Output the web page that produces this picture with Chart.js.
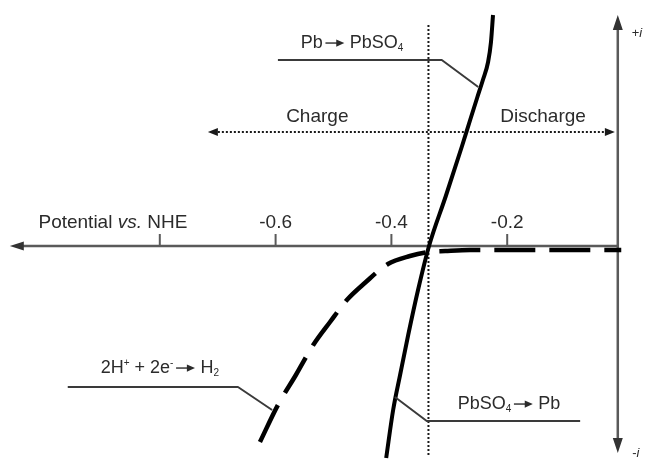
<!DOCTYPE html>
<html>
<head>
<meta charset="utf-8">
<script src="https://cdn.jsdelivr.net/npm/chart.js"></script>
<style>
    html, body { margin: 0; padding: 0; background: #fff; }
    #wrap { width: 645px; height: 462px; position: relative; }
</style>
</head>
<body>
<div id="wrap"><canvas id="myChart"></canvas></div>
<script>
// Potential axis (V vs. NHE), tick labels
const potentialTicks = [-0.8, -0.6, -0.4, -0.2];
const tickLabels = ["", "-0.6", "-0.4", "-0.2"];
const equilibriumPotential = -0.336;

// Pb <-> PbSO4 polarisation curve (solid), current in arbitrary units
const pbPotential = [-0.409, -0.397, -0.385, -0.371, -0.354, -0.335, -0.306, -0.278, -0.264, -0.252, -0.242, -0.233, -0.228, -0.2245];
const pbCurrent = [-2.12, -1.64, -1.29, -0.89, -0.44, 0, 0.50, 1.00, 1.26, 1.48, 1.66, 1.84, 2.04, 2.31];

// hydrogen evolution curve (dashed)
const h2Potential = [-0.627, -0.596, -0.565, -0.535, -0.506, -0.477, -0.446, -0.406, -0.368, -0.336, -0.307, -0.264, -0.003];
const h2Current = [-1.96, -1.59, -1.29, -0.99, -0.76, -0.54, -0.37, -0.18, -0.10, -0.06, -0.05, -0.04, -0.04];

const FONT = '"Liberation Sans", Arial, Helvetica, sans-serif';
const INK = "#2b2b2b";
const AXIS = "#5a5a5a";

// text pieces: [text, kind] kind = sub | sup | italic | arrow
const axisTitle = [["Potential "], ["vs.", "italic"], [" NHE"]];
const labelPbOx = [["Pb"], ["", "arrow"], ["PbSO"], ["4", "sub"]];
const labelPbRed = [["PbSO"], ["4", "sub"], ["", "arrow"], ["Pb"]];
const labelH2 = [["2H"], ["+", "sup"], [" + 2e"], ["-", "sup"], ["", "arrow"], ["H"], ["2", "sub"]];

function toPoints(xs, ys) {
    return xs.map((x, k) => ({ x: x, y: ys[k] }));
}

function drawRich(ctx, parts, cx, cy, size) {
    const items = parts.map(([t, kind]) => {
        if (kind === "arrow") return { kind: kind, w: size * 1.5 };
        let font = `${size}px ${FONT}`;
        let dy = 0;
        if (kind === "sub" || kind === "sup") {
            font = `${Math.round(size * 0.55)}px ${FONT}`;
            dy = kind === "sub" ? size * 0.16 : -size * 0.42;
        } else if (kind === "italic") {
            font = `italic ${size}px ${FONT}`;
        }
        ctx.font = font;
        return { t: t, kind: kind, font: font, dy: dy, w: ctx.measureText(t).width };
    });
    const total = items.reduce((s, it) => s + it.w, 0);
    let x = cx - total / 2;
    const base = cy + size * 0.358;
    ctx.fillStyle = INK;
    ctx.strokeStyle = INK;
    ctx.textAlign = "left";
    ctx.textBaseline = "alphabetic";
    items.forEach((it) => {
        if (it.kind === "arrow") {
            const y = base - size * 0.3;
            const x0 = x + size * 0.15;
            const tip = x + size * 1.2;
            ctx.lineWidth = 1.4;
            ctx.beginPath();
            ctx.moveTo(x0, y);
            ctx.lineTo(tip - size * 0.3, y);
            ctx.stroke();
            ctx.beginPath();
            ctx.moveTo(tip, y);
            ctx.lineTo(tip - size * 0.45, y - size * 0.2);
            ctx.lineTo(tip - size * 0.45, y + size * 0.2);
            ctx.closePath();
            ctx.fill();
        } else {
            ctx.font = it.font;
            ctx.fillText(it.t, x, base + it.dy);
        }
        x += it.w;
    });
}

function arrowHead(ctx, x, y, dx, dy, len, half) {
    // dx, dy: unit direction the arrow points to
    ctx.beginPath();
    ctx.moveTo(x, y);
    ctx.lineTo(x - dx * len - dy * half, y - dy * len + dx * half);
    ctx.lineTo(x - dx * len + dy * half, y - dy * len - dx * half);
    ctx.closePath();
    ctx.fill();
}

function polyline(ctx, X, Y, pts) {
    ctx.beginPath();
    pts.forEach(([v, i], k) => {
        if (k === 0) ctx.moveTo(X(v), Y(i));
        else ctx.lineTo(X(v), Y(i));
    });
    ctx.stroke();
}

// annotation geometry, in data units (V, current)
const LAYOUT = {
    vAxisAt: -0.009, vAxisTop: 2.31, vAxisBottom: -2.07,
    hAxisLeft: -1.059,
    eqTop: 2.21, eqBottom: -2.09,
    modeY: 1.14, modeLeft: -0.717, modeRight: -0.014, modeLabelY: 1.31,
    tickLen: 0.12, tickLabelY: 0.25,
};

const figurePlugin = {
    id: "figure",
    beforeDatasetsDraw(chart) {
        const ctx = chart.ctx;
        const X = (v) => chart.scales.x.getPixelForValue(v);
        const Y = (i) => chart.scales.y.getPixelForValue(i);
        const L = LAYOUT;
        ctx.save();
        // potential axis
        ctx.strokeStyle = AXIS;
        ctx.fillStyle = "#333";
        ctx.lineWidth = 2.5;
        ctx.beginPath();
        ctx.moveTo(X(L.hAxisLeft) + 8, Y(0));
        ctx.lineTo(X(L.vAxisAt), Y(0));
        ctx.stroke();
        arrowHead(ctx, X(L.hAxisLeft), Y(0), -1, 0, 14, 4.5);
        ctx.lineWidth = 2;
        potentialTicks.forEach((t) => {
            ctx.beginPath();
            ctx.moveTo(X(t), Y(0));
            ctx.lineTo(X(t), Y(L.tickLen));
            ctx.stroke();
        });
        // current axis
        ctx.lineWidth = 2.5;
        ctx.beginPath();
        ctx.moveTo(X(L.vAxisAt), Y(L.vAxisTop) + 10);
        ctx.lineTo(X(L.vAxisAt), Y(L.vAxisBottom) - 10);
        ctx.stroke();
        arrowHead(ctx, X(L.vAxisAt), Y(L.vAxisTop), 0, -1, 15, 5);
        arrowHead(ctx, X(L.vAxisAt), Y(L.vAxisBottom), 0, 1, 15, 5);
        // equilibrium potential (dotted)
        ctx.strokeStyle = "#1a1a1a";
        ctx.lineWidth = 2;
        ctx.setLineDash([2, 2]);
        ctx.beginPath();
        ctx.moveTo(X(equilibriumPotential), Y(L.eqTop));
        ctx.lineTo(X(equilibriumPotential), Y(L.eqBottom));
        ctx.stroke();
        // charge / discharge arrow (dotted)
        ctx.beginPath();
        ctx.moveTo(X(L.modeLeft) + 6, Y(L.modeY));
        ctx.lineTo(X(L.modeRight) - 6, Y(L.modeY));
        ctx.stroke();
        ctx.setLineDash([]);
        ctx.fillStyle = "#1a1a1a";
        arrowHead(ctx, X(L.modeLeft), Y(L.modeY), -1, 0, 10, 4);
        arrowHead(ctx, X(L.modeRight), Y(L.modeY), 1, 0, 10, 4);
        ctx.restore();
    },
    afterDatasetsDraw(chart) {
        const ctx = chart.ctx;
        const X = (v) => chart.scales.x.getPixelForValue(v);
        const Y = (i) => chart.scales.y.getPixelForValue(i);
        const L = LAYOUT;
        ctx.save();
        // callout leaders
        ctx.strokeStyle = "#3a3a3a";
        ctx.lineWidth = 2;
        ctx.lineJoin = "round";
        polyline(ctx, X, Y, [[-0.596, 1.86], [-0.313, 1.86], [-0.250, 1.59]]);
        polyline(ctx, X, Y, [[-0.959, -1.41], [-0.665, -1.41], [-0.606, -1.64]]);
        polyline(ctx, X, Y, [[-0.394, -1.51], [-0.339, -1.75], [-0.074, -1.75]]);
        // tick labels
        tickLabels.forEach((lab, k) => {
            if (lab) drawRich(ctx, [[lab]], X(potentialTicks[k]), Y(L.tickLabelY), 19);
        });
        drawRich(ctx, axisTitle, X(-0.881), Y(L.tickLabelY), 19);
        drawRich(ctx, [["Charge"]], X(-0.528), Y(L.modeLabelY), 19);
        drawRich(ctx, [["Discharge"]], X(-0.138), Y(L.modeLabelY), 19);
        drawRich(ctx, labelPbOx, X(-0.468), Y(2.04), 18);
        drawRich(ctx, labelH2, X(-0.800), Y(-1.21), 18);
        drawRich(ctx, labelPbRed, X(-0.197), Y(-1.57), 18);
        drawRich(ctx, [["+"], ["i", "italic"]], X(0.024), Y(2.14), 13);
        drawRich(ctx, [["-"], ["i", "italic"]], X(0.022), Y(-2.06), 13);
        ctx.restore();
    },
};

const config = {
    type: "scatter",
    data: {
        datasets: [
            {
                label: "Pb / PbSO4",
                data: toPoints(pbPotential, pbCurrent),
                showLine: true,
                borderColor: "#000",
                borderWidth: 4,
                pointRadius: 0,
                cubicInterpolationMode: "monotone",
            },
            {
                label: "H2 evolution",
                data: toPoints(h2Potential, h2Current),
                showLine: true,
                borderColor: "#000",
                borderWidth: 4.5,
                borderDash: [41, 14],
                pointRadius: 0,
                cubicInterpolationMode: "monotone",
            },
        ],
    },
    options: {
        responsive: true,
        maintainAspectRatio: false,
        animation: false,
        layout: { padding: 0 },
        plugins: {
            legend: { display: false },
            tooltip: { enabled: false },
        },
        scales: {
            x: { type: "linear", display: false, min: -1.076, max: 0.038 },
            y: { type: "linear", display: false, min: -2.16, max: 2.46 },
        },
    },
    plugins: [figurePlugin],
};

window.onload = function () {
    const ctx = document.getElementById("myChart").getContext("2d");
    window.graph = new Chart(ctx, config);
};
</script>
</body>
</html>
